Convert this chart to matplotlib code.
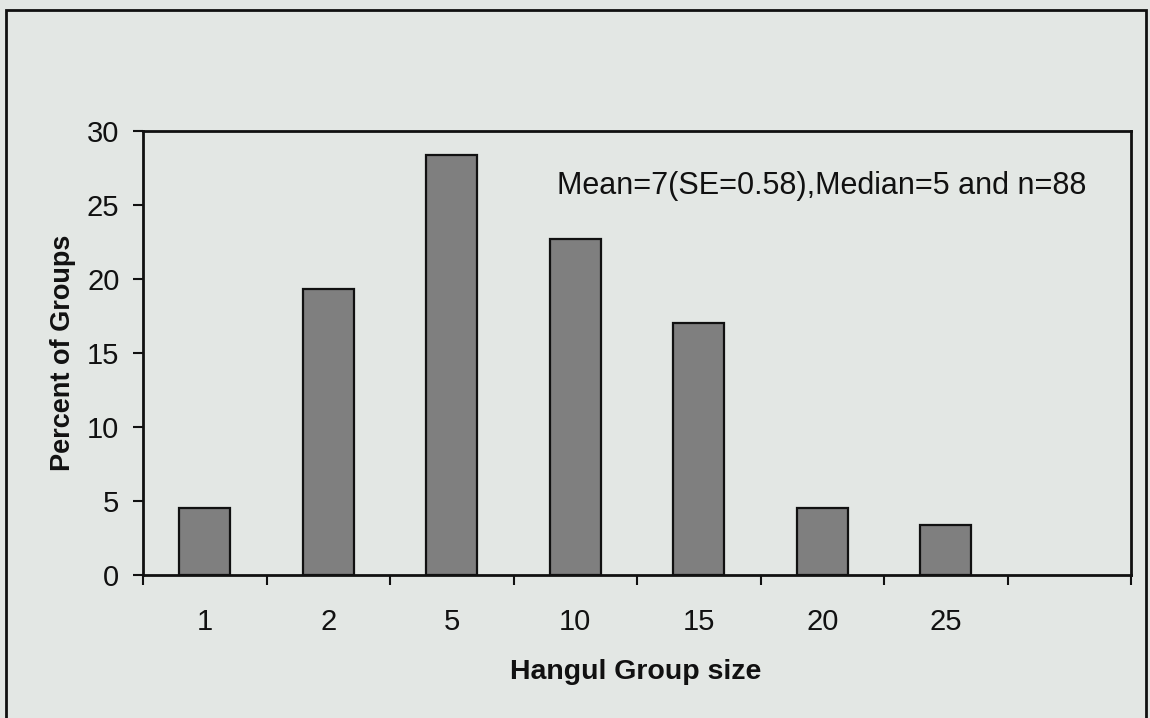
import matplotlib.pyplot as plt
import matplotlib.patches as patches

# 数据：各组规模的百分比
group_sizes = ['1', '2', '5', '10', '15', '20', '25']
percent_groups = [4.55, 19.32, 28.41, 22.73, 17.05, 4.55, 3.41]
y_ticks = [0, 5, 10, 15, 20, 25, 30]
stats_text = 'Mean=7(SE=0.58),Median=5 and n=88'

bg_color = '#e3e7e4'
bar_color = '#7f7f7f'
ink = '#111111'

plt.rcParams['font.family'] = ['Liberation Sans', 'DejaVu Sans']

fig = plt.figure(figsize=(11.5, 7.18), dpi=100, facecolor=bg_color)
ax = fig.add_axes([143 / 1150, 1 - 575 / 718, (1131 - 143) / 1150, (575 - 131) / 718])
ax.set_facecolor(bg_color)

xs = list(range(len(group_sizes)))
ax.bar(xs, percent_groups, width=0.41, color=bar_color, edgecolor=ink, linewidth=1.6)

ax.set_xlim(-0.5, len(group_sizes) + 0.5)
ax.set_ylim(0, 30)

# x轴：标签在柱中间，刻度线在组之间
ax.set_xticks(xs)
ax.set_xticklabels(group_sizes, fontsize=21, color=ink)
ax.tick_params(axis='x', which='major', length=0, pad=24)
ax.set_xticks([x - 0.5 for x in range(len(group_sizes) + 2)], minor=True)
ax.tick_params(axis='x', which='minor', length=7, width=1.5, direction='out', color=ink)

ax.set_yticks(y_ticks)
ax.tick_params(axis='y', labelsize=21, length=7, width=1.5, direction='out',
               color=ink, labelcolor=ink, pad=10)

for side in ['left', 'right', 'top', 'bottom']:
    ax.spines[side].set_linewidth(2)
    ax.spines[side].set_color(ink)

ax.set_ylabel('Percent of Groups', fontsize=19.5, fontweight='bold', color=ink, labelpad=8)
fig.text(636 / 1150, 1 - 672 / 718, 'Hangul Group size', fontsize=20.5, fontweight='bold',
         color=ink, ha='center', va='center')

ax.text((557 - 143) / 988, (575 - 186) / 444, stats_text, transform=ax.transAxes,
        fontsize=22, color=ink, ha='left', va='center')

# 外框
frame = patches.Rectangle((6 / 1150, -0.02), 1140 / 1150, 1 - 10 / 718 + 0.02,
                          transform=fig.transFigure, fill=False, edgecolor=ink,
                          linewidth=2, clip_on=False)
fig.patches.append(frame)

fig.savefig('out.png', dpi=100, facecolor=bg_color)
